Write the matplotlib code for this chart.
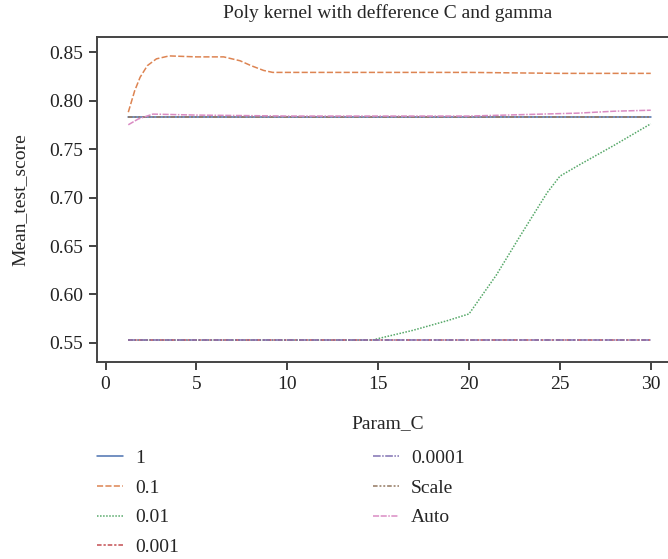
import matplotlib
matplotlib.use("Agg")
import matplotlib.pyplot as plt
import seaborn as sns

# gamma levels (legend order) and their mean test scores over Param_C
gammas = ["1", "0.1", "0.01", "0.001", "0.0001", "Scale", "Auto"]

c_flat = [1.25, 30]
score_g1 = [0.783, 0.783]
score_g0001 = [0.553, 0.553]
score_g00001 = [0.553, 0.553]
score_scale = [0.783, 0.783]

c_g01 = [1.25, 1.6, 1.9, 2.3, 2.8, 3.5, 5, 6.5, 7.4, 8.0, 8.7, 9.2, 10, 15, 20, 25, 30]
score_g01 = [0.788, 0.810, 0.824, 0.836, 0.843, 0.846, 0.845, 0.845, 0.841,
             0.836, 0.831, 0.829, 0.829, 0.829, 0.829, 0.828, 0.828]

c_g001 = [1.25, 14.7, 15.1, 16.9, 18.8, 20, 21.5, 22.8, 24.3, 25, 26.1, 28, 30]
score_g001 = [0.553, 0.553, 0.555, 0.563, 0.573, 0.580, 0.620, 0.660, 0.705,
              0.722, 0.734, 0.754, 0.776]

c_auto = [1.25, 1.8, 2.6, 5, 10, 15, 20, 22, 24, 26, 28, 30]
score_auto = [0.775, 0.781, 0.786, 0.785, 0.784, 0.784, 0.784, 0.785, 0.786,
              0.787, 0.789, 0.790]

series_c = [c_flat, c_g01, c_g001, c_flat, c_flat, c_flat, c_auto]
series_score = [score_g1, score_g01, score_g001, score_g0001, score_g00001,
                score_scale, score_auto]

colors = sns.color_palette("deep", 7)
dashes = ["", (4, 1.5), (1, 1), (3, 1.25, 1.5, 1.25), (5, 1, 1, 1),
          (3, 1.25, 1.25, 1.25, 1.25, 1.25), (4, 1, 4, 1, 1, 1)]

sns.set_style("ticks")
plt.rcParams['font.family'] = ['Liberation Serif', 'DejaVu Serif']

fig = plt.figure(figsize=(6.68, 5.59), dpi=100)
ax = fig.add_axes([0.145, 1 - 362 / 559, 0.87, (362 - 37) / 559])

for i, g in enumerate(gammas):
    line, = ax.plot(series_c[i], series_score[i], color=colors[i], lw=1.1, label=g)
    if dashes[i]:
        line.set_dashes(dashes[i])

ax.set_xlim(-0.48, 31.5)
ax.set_ylim(0.5304, 0.8655)
ax.set_xticks([0, 5, 10, 15, 20, 25, 30])
ax.set_yticks([0.55, 0.60, 0.65, 0.70, 0.75, 0.80, 0.85])
ax.set_yticklabels(["0.55", "0.60", "0.65", "0.70", "0.75", "0.80", "0.85"])
ax.tick_params(labelsize=14, length=6, width=1.2, pad=4, colors="#222222",
               labelcolor="#222222")
for s in ax.spines.values():
    s.set_linewidth(1.4)
    s.set_color("#444444")

ax.set_title("Poly kernel with defference C and gamma", fontsize=14, pad=14)
ax.set_xlabel("Param_C", fontsize=14, labelpad=16)
ax.set_ylabel("Mean_test_score", fontsize=14, labelpad=15)

ax.legend(loc="upper left", bbox_to_anchor=(-0.03, -0.215), ncol=2, frameon=False,
          fontsize=14, handlelength=1.35, handletextpad=0.6, columnspacing=10.0,
          labelspacing=0.62)

fig.savefig("out.png", dpi=100)
